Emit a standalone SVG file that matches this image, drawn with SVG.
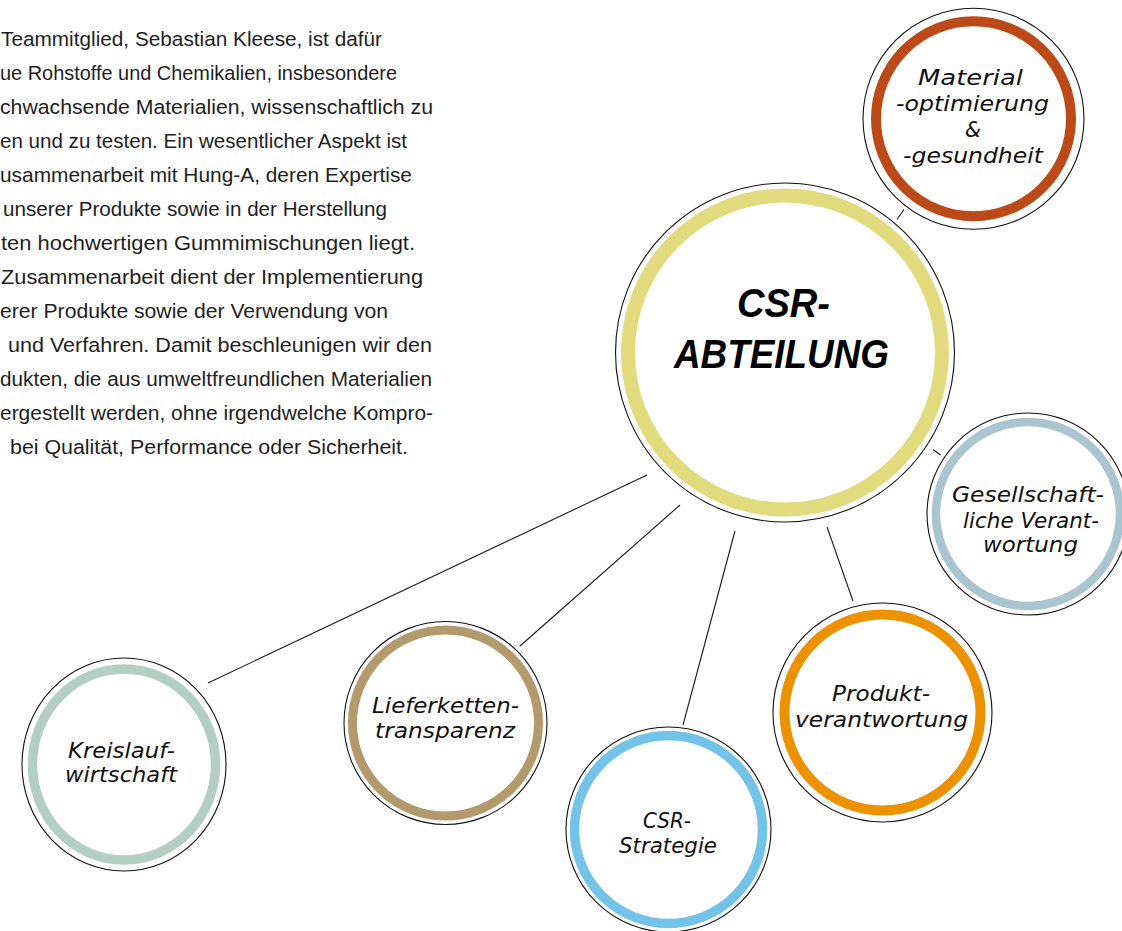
<svg xmlns="http://www.w3.org/2000/svg" width="1122" height="931" viewBox="0 0 1122 931">
<style>
.bg{fill:#ffffff}
.para{font-family:"Liberation Sans",Arial,sans-serif;font-size:20.5px;fill:#1e1e1e}
.outer{fill:#ffffff;stroke:#111111;stroke-width:1.1}
.ring{fill:none}
.lbl{font-family:"DejaVu Sans","Liberation Sans",sans-serif;font-style:italic;font-size:22px;fill:#111111}
.big{font-family:"Liberation Sans",Arial,sans-serif;font-style:italic;font-weight:bold;font-size:41px;fill:#000000}
.con{stroke:#1a1a1a;stroke-width:1.1;fill:none}
</style>
<rect class="bg" x="0" y="0" width="1122" height="931"/>
<g id="paragraph">
<text class="para" x="1" y="46" textLength="381" lengthAdjust="spacingAndGlyphs">Teammitglied, Sebastian Kleese, ist dafür</text>
<text class="para" x="0" y="80" textLength="397" lengthAdjust="spacingAndGlyphs">ue Rohstoffe und Chemikalien, insbesondere</text>
<text class="para" x="0" y="114" textLength="433" lengthAdjust="spacingAndGlyphs">chwachsende Materialien, wissenschaftlich zu</text>
<text class="para" x="0" y="148" textLength="407" lengthAdjust="spacingAndGlyphs">en und zu testen. Ein wesentlicher Aspekt ist</text>
<text class="para" x="0" y="182" textLength="412" lengthAdjust="spacingAndGlyphs">usammenarbeit mit Hung-A, deren Expertise</text>
<text class="para" x="3" y="216" textLength="384" lengthAdjust="spacingAndGlyphs">unserer Produkte sowie in der Herstellung</text>
<text class="para" x="1" y="250" textLength="414" lengthAdjust="spacingAndGlyphs">ten hochwertigen Gummimischungen liegt.</text>
<text class="para" x="1" y="284" textLength="422" lengthAdjust="spacingAndGlyphs">Zusammenarbeit dient der Implementierung</text>
<text class="para" x="0" y="318" textLength="388" lengthAdjust="spacingAndGlyphs">erer Produkte sowie der Verwendung von</text>
<text class="para" x="8" y="352" textLength="424" lengthAdjust="spacingAndGlyphs">und Verfahren. Damit beschleunigen wir den</text>
<text class="para" x="0" y="386" textLength="432" lengthAdjust="spacingAndGlyphs">dukten, die aus umweltfreundlichen Materialien</text>
<text class="para" x="0" y="420" textLength="433" lengthAdjust="spacingAndGlyphs">ergestellt werden, ohne irgendwelche Kompro-</text>
<text class="para" x="10" y="454" textLength="398" lengthAdjust="spacingAndGlyphs">bei Qualität, Performance oder Sicherheit.</text>
</g>
<g id="connectors">
<line class="con" x1="897" y1="219.5" x2="904" y2="209.5"/>
<line class="con" x1="933" y1="449.5" x2="940.5" y2="455"/>
<line class="con" x1="647" y1="475" x2="208" y2="683"/>
<line class="con" x1="680" y1="505" x2="520" y2="646"/>
<line class="con" x1="735" y1="531" x2="683" y2="725"/>
<line class="con" x1="827" y1="527" x2="853" y2="601"/>
</g>
<g id="node-csr-abteilung">
<circle class="outer" cx="785" cy="352.5" r="169.5"/>
<circle class="ring" cx="785" cy="352.5" r="157" stroke="#E1DB7D" stroke-width="14"/>
<text class="big" x="737" y="317" textLength="93" lengthAdjust="spacingAndGlyphs">CSR-</text>
<text class="big" x="674" y="368" textLength="215" lengthAdjust="spacingAndGlyphs">ABTEILUNG</text>
</g>
<g id="node-material">
<circle class="outer" cx="973.5" cy="118.8" r="110.5"/>
<circle class="ring" cx="973.5" cy="118.8" r="97.5" stroke="#BB4A18" stroke-width="10"/>
<text class="lbl" x="918" y="85" textLength="105" lengthAdjust="spacingAndGlyphs">Material</text>
<text class="lbl" x="896" y="111" textLength="153" lengthAdjust="spacingAndGlyphs">-optimierung</text>
<text class="lbl" x="965" y="137" textLength="16" lengthAdjust="spacingAndGlyphs">&amp;</text>
<text class="lbl" x="903" y="163" textLength="140" lengthAdjust="spacingAndGlyphs">-gesundheit</text>
</g>
<g id="node-gesellschaft">
<circle class="outer" cx="1028" cy="514" r="101"/>
<circle class="ring" cx="1028" cy="514" r="92" stroke="#AAC5CF" stroke-width="8.5"/>
<text class="lbl" x="952" y="502" textLength="152" lengthAdjust="spacingAndGlyphs">Gesellschaft-</text>
<text class="lbl" x="963" y="528" textLength="136" lengthAdjust="spacingAndGlyphs">liche Verant-</text>
<text class="lbl" x="983" y="552" textLength="95" lengthAdjust="spacingAndGlyphs">wortung</text>
</g>
<g id="node-kreislauf">
<ellipse class="outer" cx="124" cy="764.5" rx="102" ry="106.5"/>
<ellipse class="ring" cx="124" cy="764.5" rx="91.5" ry="95.5" stroke="#B3CFC3" stroke-width="9.5"/>
<text class="lbl" x="68" y="758" textLength="107" lengthAdjust="spacingAndGlyphs">Kreislauf-</text>
<text class="lbl" x="65" y="782" textLength="112" lengthAdjust="spacingAndGlyphs">wirtschaft</text>
</g>
<g id="node-lieferketten">
<circle class="outer" cx="445.5" cy="723" r="101.5"/>
<circle class="ring" cx="445.5" cy="723" r="93" stroke="#B39A6D" stroke-width="9"/>
<text class="lbl" x="372" y="713" textLength="147" lengthAdjust="spacingAndGlyphs">Lieferketten-</text>
<text class="lbl" x="375" y="738" textLength="140" lengthAdjust="spacingAndGlyphs">transparenz</text>
</g>
<g id="node-csr-strategie">
<circle class="outer" cx="668.5" cy="829.5" r="102.5"/>
<circle class="ring" cx="668.5" cy="829.5" r="94" stroke="#72C3E7" stroke-width="9.5"/>
<text class="lbl" x="643" y="828" textLength="48" lengthAdjust="spacingAndGlyphs">CSR-</text>
<text class="lbl" x="619" y="853" textLength="98" lengthAdjust="spacingAndGlyphs">Strategie</text>
</g>
<g id="node-produkt">
<circle class="outer" cx="882.5" cy="712.5" r="109.5"/>
<circle class="ring" cx="882.5" cy="712.5" r="98" stroke="#EC9200" stroke-width="10"/>
<text class="lbl" x="832" y="701" textLength="98" lengthAdjust="spacingAndGlyphs">Produkt-</text>
<text class="lbl" x="795" y="727" textLength="173" lengthAdjust="spacingAndGlyphs">verantwortung</text>
</g>
</svg>
